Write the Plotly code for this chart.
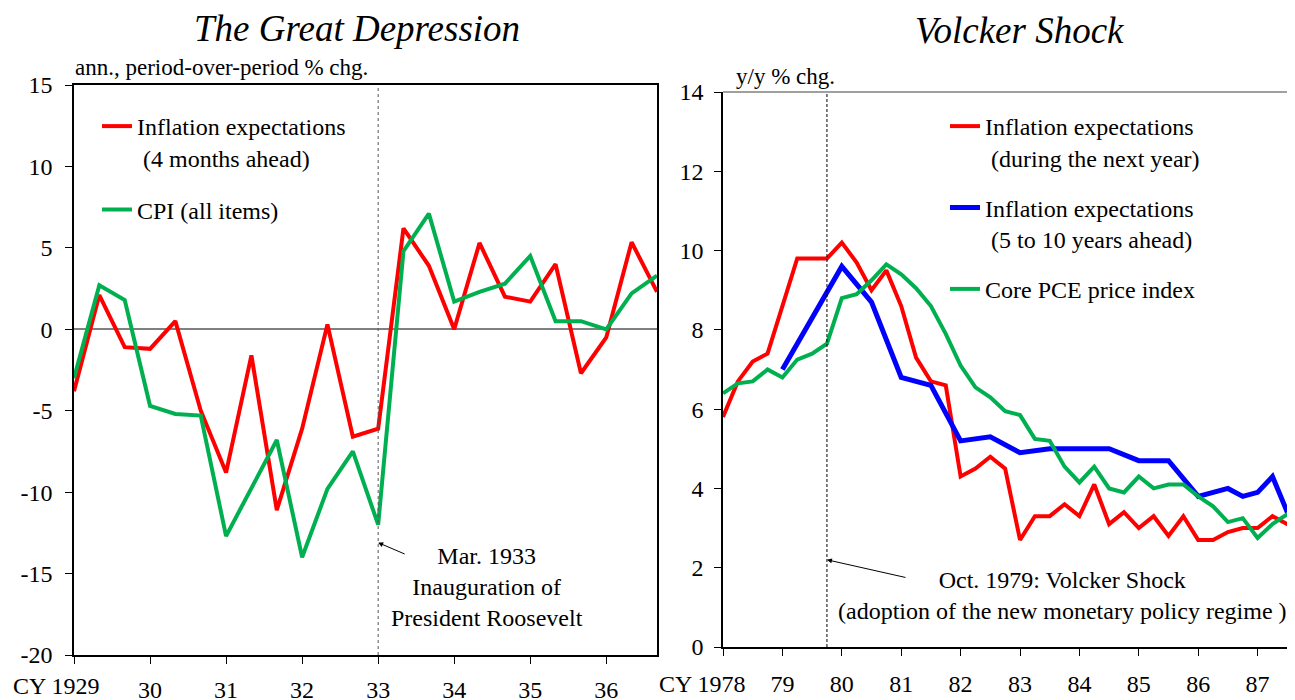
import plotly.graph_objects as go

# The Great Depression (every 4 months, 1929-1936)
gd_period = [1929.000, 1929.333, 1929.667, 1930.000, 1930.333, 1930.667,
             1931.000, 1931.333, 1931.667, 1932.000, 1932.333, 1932.667,
             1933.000, 1933.333, 1933.667, 1934.000, 1934.333, 1934.667,
             1935.000, 1935.333, 1935.667, 1936.000, 1936.333, 1936.667]
gd_expect = [-3.8, 2.1, -1.1, -1.2, 0.5, -5.0, -8.8, -1.6, -11.1, -6.1, 0.3, -6.6,
             -6.1, 6.2, 3.9, 0.0, 5.3, 2.0, 1.7, 4.0, -2.7, -0.5, 5.35, 2.3]
gd_cpi = [-3.0, 2.7, 1.8, -4.7, -5.2, -5.3, -12.7, -9.8, -6.8, -14.0, -9.8, -7.5,
          -12.0, 4.8, 7.1, 1.7, 2.3, 2.8, 4.5, 0.5, 0.5, 0.0, 2.2, 3.3]
gd_xticks = [1929, 1930, 1931, 1932, 1933, 1934, 1935, 1936]
gd_xlabels = ["", "30", "31", "32", "33", "34", "35", "36"]
gd_first_label = "CY 1929"
gd_yticks = [-20, -15, -10, -5, 0, 5, 10, 15]
gd_ylabels = ["-20", "-15", "-10", "-5", "0", "5", "10", "15"]

# Volcker Shock (quarterly, 1978-1987)
vs_quarter = [1978.00, 1978.25, 1978.50, 1978.75, 1979.00, 1979.25, 1979.50, 1979.75,
              1980.00, 1980.25, 1980.50, 1980.75, 1981.00, 1981.25, 1981.50, 1981.75,
              1982.00, 1982.25, 1982.50, 1982.75, 1983.00, 1983.25, 1983.50, 1983.75,
              1984.00, 1984.25, 1984.50, 1984.75, 1985.00, 1985.25, 1985.50, 1985.75,
              1986.00, 1986.25, 1986.50, 1986.75, 1987.00, 1987.25, 1987.50, 1987.75]
vs_expect_1y = [5.8, 6.7, 7.2, 7.4, 8.6, 9.8, 9.8, 9.8, 10.2, 9.7, 9.0, 9.5,
                8.6, 7.3, 6.7, 6.6, 4.3, 4.5, 4.8, 4.5, 2.7, 3.3, 3.3, 3.6,
                3.3, 4.1, 3.1, 3.4, 3.0, 3.3, 2.8, 3.3, 2.7, 2.7, 2.9, 3.0,
                3.0, 3.3, 3.1, 3.2]
vs_core_pce = [6.4, 6.65, 6.7, 7.0, 6.8, 7.25, 7.4, 7.65, 8.8, 8.9, 9.25, 9.65,
               9.4, 9.05, 8.6, 7.9, 7.1, 6.55, 6.3, 5.95, 5.85, 5.25, 5.2, 4.55,
               4.15, 4.55, 4.0, 3.9, 4.3, 4.0, 4.1, 4.1, 3.8, 3.55, 3.15, 3.25,
               2.75, 3.1, 3.35, 3.6]
vs_long_period = [1979.0, 1980.0, 1980.5, 1981.0, 1981.5, 1982.0, 1982.5, 1983.0,
                  1983.5, 1984.0, 1984.5, 1985.0, 1985.5, 1986.0, 1986.25, 1986.5,
                  1986.75, 1987.0, 1987.25, 1987.5, 1987.75]
vs_expect_long = [7.0, 9.6, 8.7, 6.8, 6.6, 5.2, 5.3, 4.9, 5.0, 5.0, 5.0, 4.7,
                  4.7, 3.8, 3.9, 4.0, 3.8, 3.9, 4.3, 3.4, 4.4]
vs_xticks = [1978, 1979, 1980, 1981, 1982, 1983, 1984, 1985, 1986, 1987]
vs_xlabels = ["", "79", "80", "81", "82", "83", "84", "85", "86", "87"]
vs_first_label = "CY 1978"

FONT = "Liberation Serif, Times New Roman, serif"
RED, GREEN, BLUE = "#ff0000", "#00b050", "#0000ff"
nb = "\u00a0"
W, H = 1295, 700
OFF = 8  # page body margin


def px(x):
    return (x - OFF) / W


def py(y):
    return (H - (y - OFF)) / H


fig = go.Figure()
fig.add_trace(go.Scatter(x=gd_period, y=gd_expect, mode="lines",
                         name="Inflation expectations<br>" + nb + "(4 months ahead)",
                         line=dict(color=RED, width=4), legendgroup="a", legend="legend"))
fig.add_trace(go.Scatter(x=gd_period, y=gd_cpi, mode="lines", name="CPI (all items)",
                         line=dict(color=GREEN, width=4), legendgroup="b", legend="legend"))
fig.add_trace(go.Scatter(x=vs_quarter, y=vs_expect_1y, mode="lines", xaxis="x2", yaxis="y2",
                         name="Inflation expectations<br>" + nb + "(during the next year)",
                         line=dict(color=RED, width=4), legendgroup="c", legend="legend2"))
fig.add_trace(go.Scatter(x=vs_long_period, y=vs_expect_long, mode="lines", xaxis="x2", yaxis="y2",
                         name="Inflation expectations<br>" + nb + "(5 to 10 years ahead)",
                         line=dict(color=BLUE, width=5), legendgroup="d", legend="legend2"))
fig.add_trace(go.Scatter(x=vs_quarter, y=vs_core_pce, mode="lines", xaxis="x2", yaxis="y2",
                         name="Core PCE price index",
                         line=dict(color=GREEN, width=4), legendgroup="e", legend="legend2"))

axis_common = dict(showline=True, linecolor="black", linewidth=1.5, ticks="outside",
                   ticklen=7, tickcolor="black", showgrid=False, automargin=False,
                   tickfont=dict(family=FONT, size=24, color="black"))

fig.update_layout(
    width=W, height=H,
    margin=dict(l=0, r=0, t=0, b=0, autoexpand=False),
    plot_bgcolor="white", paper_bgcolor="white",
    font=dict(family=FONT, size=24, color="black"),
    xaxis=dict(domain=[px(74), px(657)], range=[1929, 1936.667], tickvals=gd_xticks,
               ticktext=gd_xlabels, tickangle=0, mirror=True, ticklabelstandoff=5,
               anchor="y", zeroline=False, **axis_common),
    yaxis=dict(domain=[py(655), py(85)], range=[-20, 15], tickvals=gd_yticks,
               ticktext=gd_ylabels, mirror=True,
               zeroline=True, zerolinecolor="#808080", zerolinewidth=1.5,
               ticklabelstandoff=8, anchor="x", **axis_common),
    xaxis2=dict(domain=[px(723), 1.0], range=[1978, 1987.764], tickvals=vs_xticks,
                ticktext=vs_xlabels, tickangle=0, ticklabelstandoff=7, anchor="y2",
                zeroline=False, **axis_common),
    yaxis2=dict(domain=[py(647), py(92)], range=[0, 14], dtick=2, zeroline=False,
                ticklabelstandoff=6, anchor="x2", **axis_common),
    legend=dict(x=px(97), y=py(104), xanchor="left", yanchor="top", valign="top",
                traceorder="grouped", tracegroupgap=18, bgcolor="rgba(0,0,0,0)",
                font=dict(family=FONT, size=24)),
    legend2=dict(x=px(945), y=py(104), xanchor="left", yanchor="top", valign="top",
                 traceorder="grouped", tracegroupgap=16, bgcolor="rgba(0,0,0,0)",
                 font=dict(family=FONT, size=24)),
    showlegend=True,
)

# event markers and the grey top frame of the right panel
fig.add_shape(type="line", xref="x", yref="y domain", x0=1933, x1=1933, y0=0, y1=1,
              line=dict(color="#555555", width=1, dash="3px,3px"))
fig.add_shape(type="line", xref="x2", yref="y2 domain", x0=1979.75, x1=1979.75, y0=0, y1=1,
              line=dict(color="black", width=1, dash="3px,2px"))
fig.add_shape(type="line", xref="x2 domain", yref="y2 domain", x0=0, x1=1, y0=1, y1=1,
              line=dict(color="#808080", width=1.5))

ann = [
    dict(text="<i>The Great Depression</i>", x=px(357), y=py(28), xref="paper", yref="paper",
         xanchor="center", yanchor="middle", showarrow=False, font=dict(size=37)),
    dict(text="<i>Volcker Shock</i>", x=px(1020), y=py(30), xref="paper", yref="paper",
         xanchor="center", yanchor="middle", showarrow=False, font=dict(size=37)),
    dict(text="ann., period-over-period % chg.", x=px(73), y=py(67), xref="paper",
         yref="paper", xanchor="left", yanchor="middle", showarrow=False, font=dict(size=23)),
    dict(text="y/y % chg.", x=px(734), y=py(77), xref="paper", yref="paper",
         xanchor="left", yanchor="middle", showarrow=False, font=dict(size=23)),
    # first year labels sit a little left of their tick
    dict(text=gd_first_label, x=gd_xticks[0], y=py(686), xref="x", yref="paper",
         xanchor="center", yanchor="middle", xshift=-18, showarrow=False, font=dict(size=24)),
    dict(text=vs_first_label, x=vs_xticks[0], y=py(684), xref="x2", yref="paper",
         xanchor="center", yanchor="middle", xshift=-21, showarrow=False, font=dict(size=24)),
    dict(text="", x=1933, y=-13.1, xref="x", yref="y", ax=28, ay=12, showarrow=True,
         arrowhead=2, arrowsize=1, arrowwidth=1, arrowcolor="black"),
    dict(text="Mar. 1933<br>Inauguration of<br>President Roosevelt", x=1934.43, y=-15.8,
         xref="x", yref="y", xanchor="center", yanchor="middle", showarrow=False,
         font=dict(size=24)),
    dict(text="", x=1979.75, y=2.2, xref="x2", yref="y2", ax=80, ay=18, showarrow=True,
         arrowhead=2, arrowsize=1, arrowwidth=1, arrowcolor="black"),
    dict(text="Oct. 1979: Volcker Shock<br>(adoption of the new monetary policy regime )",
         x=1983.71, y=1.29, xref="x2", yref="y2", xanchor="center", yanchor="middle",
         showarrow=False, font=dict(size=24)),
]
fig.update_layout(annotations=ann)

fig.write_html("out.html")
